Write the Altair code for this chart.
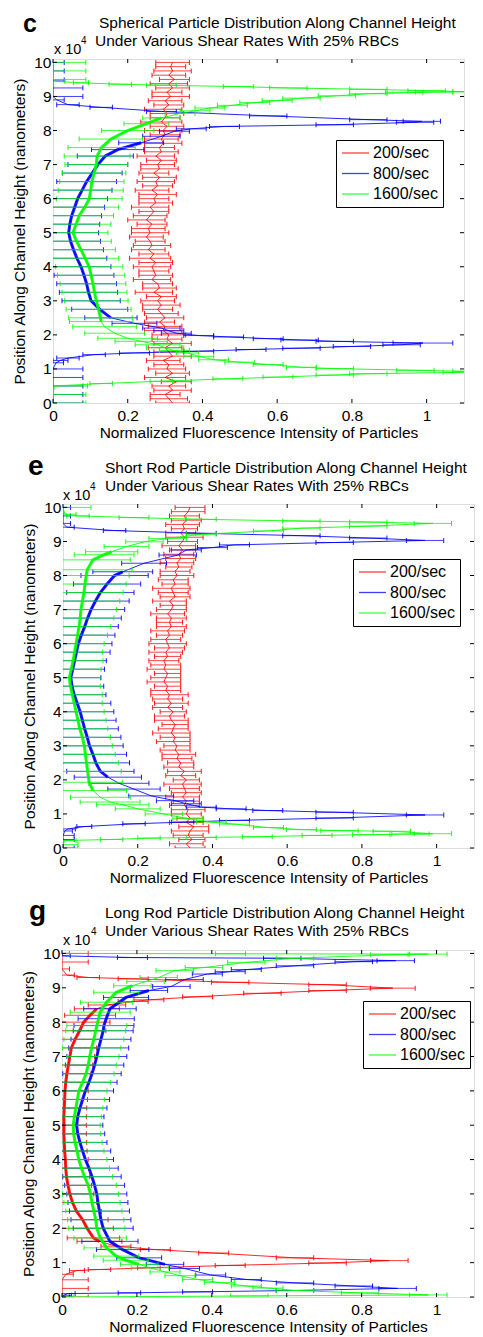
import altair as alt
import pandas as pd

FONT = "Liberation Sans"
SERIES = ["200/sec", "800/sec", "1600/sec"]
COLORS = ["#ff0000", "#0000ff", "#00ff00"]
X_TICKS = [0, 0.2, 0.4, 0.6, 0.8, 1.0]
Y_TICKS = [0, 1, 2, 3, 4, 5, 6, 7, 8, 9, 10]
X_LABEL = "Normalized Fluorescence Intensity of Particles"
Y_LABEL = "Position Along Channel Height (nanometers)"
LINE2 = "Under Various Shear Rates With 25% RBCs"
C_LINE1 = "Spherical Particle Distribution Along Channel Height"
E_LINE1 = "Short Rod Particle Distribution Along Channel Height"
G_LINE1 = "Long Rod Particle Distribution Along Channel Height"

# sample positions (x 10^4 nm) of the dense 200/sec profiles
RED_POS = [0.0, 0.125, 0.25, 0.375, 0.5, 0.625, 0.75, 0.875, 1.0, 1.125, 1.25, 1.375, 1.5, 1.625, 1.75, 1.875,
           2.0, 2.125, 2.25, 2.375, 2.5, 2.625, 2.75, 2.875, 3.0, 3.125, 3.25, 3.375, 3.5, 3.625, 3.75, 3.875,
           4.0, 4.125, 4.25, 4.375, 4.5, 4.625, 4.75, 4.875, 5.0, 5.125, 5.25, 5.375, 5.5, 5.625, 5.75, 5.875,
           6.0, 6.125, 6.25, 6.375, 6.5, 6.625, 6.75, 6.875, 7.0, 7.125, 7.25, 7.375, 7.5, 7.625, 7.75, 7.875,
           8.0, 8.125, 8.25, 8.375, 8.5, 8.625, 8.75, 8.875, 9.0, 9.125, 9.25, 9.375, 9.5, 9.625, 9.75, 9.875, 10.0]

# ---------------- panel c (spherical) ----------------
C_RED_X = [0.32, 0.31, 0.30, 0.32, 0.31, 0.33, 0.30, 0.32, 0.305, 0.31,
           0.295, 0.32, 0.31, 0.30, 0.32, 0.305, 0.31, 0.295, 0.30, 0.285,
           0.30, 0.29, 0.28, 0.29, 0.28, 0.29, 0.27, 0.285, 0.28, 0.265,
           0.275, 0.27, 0.265, 0.275, 0.26, 0.27, 0.255, 0.265, 0.26, 0.25,
           0.26, 0.255, 0.265, 0.25, 0.26, 0.27, 0.26, 0.275, 0.27, 0.28,
           0.265, 0.28, 0.275, 0.285, 0.27, 0.285, 0.28, 0.29, 0.275, 0.29,
           0.285, 0.295, 0.29, 0.30, 0.295, 0.305, 0.29, 0.30, 0.305, 0.295,
           0.31, 0.30, 0.315, 0.305, 0.32, 0.31, 0.325, 0.31, 0.32, 0.315, 0.32]
C_RED_E = [0.045, 0.05, 0.04, 0.05, 0.045, 0.04, 0.055, 0.045, 0.05, 0.04,
           0.045, 0.05, 0.04, 0.045, 0.05, 0.04, 0.045, 0.05, 0.045, 0.04,
           0.05, 0.045, 0.04, 0.05, 0.045, 0.04, 0.05, 0.045, 0.04, 0.05,
           0.045, 0.04, 0.05, 0.045, 0.055, 0.04, 0.045, 0.05, 0.04, 0.045,
           0.05, 0.045, 0.04, 0.05, 0.045, 0.04, 0.05, 0.045, 0.04, 0.05,
           0.045, 0.04, 0.05, 0.045, 0.04, 0.05, 0.045, 0.04, 0.05, 0.045,
           0.04, 0.05, 0.045, 0.04, 0.05, 0.045, 0.055, 0.04, 0.045, 0.05,
           0.04, 0.045, 0.05, 0.04, 0.045, 0.05, 0.04, 0.045, 0.05, 0.04, 0.045]

C_BLUE_Y = [0.0, 0.25, 0.5, 0.75, 1.0, 1.18, 1.25, 1.32, 1.42, 1.47, 1.52, 1.57, 1.61, 1.66, 1.71, 1.76,
            1.81, 1.85, 1.89, 1.94, 1.98, 2.05, 2.12, 2.2, 2.34, 2.5, 2.75, 3.0, 3.25, 3.5, 3.75, 4.0,
            4.25, 4.5, 4.75, 5.0, 5.25, 5.5, 5.75, 6.0, 6.25, 6.5, 6.75, 7.0, 7.25, 7.44, 7.64, 7.83,
            7.98, 8.05, 8.12, 8.17, 8.24, 8.27, 8.32, 8.43, 8.56, 8.68, 8.76, 8.9, 9.0, 9.25, 9.48, 9.75, 10.0]
C_BLUE_X = [0.0, 0.0, 0.0, 0.0, 0.0, 0.008, 0.02, 0.04, 0.11, 0.218, 0.39, 0.53, 0.665, 0.8, 0.933, 0.99,
            0.754, 0.66, 0.576, 0.47, 0.39, 0.33, 0.31, 0.29, 0.218, 0.155, 0.125, 0.102, 0.095, 0.09, 0.083, 0.075,
            0.064, 0.055, 0.047, 0.042, 0.045, 0.05, 0.058, 0.066, 0.078, 0.09, 0.105, 0.12, 0.14, 0.173, 0.236, 0.29,
            0.325, 0.37, 0.459, 0.754, 0.969, 0.987, 0.844, 0.576, 0.29, 0.129, 0.04, 0.01, 0.0, 0.0, 0.0, 0.0, 0.0]
C_BLUE_E = [0.08, 0.08, 0.08, 0.08, 0.08, 0.02, 0.02, 0.03, 0.03, 0.04, 0.04, 0.04, 0.05, 0.05, 0.05, 0.08,
            0.05, 0.05, 0.04, 0.04, 0.04, 0.04, 0.04, 0.05, 0.06, 0.07, 0.075, 0.078, 0.078, 0.08, 0.08, 0.08,
            0.08, 0.08, 0.08, 0.08, 0.08, 0.08, 0.08, 0.08, 0.08, 0.08, 0.08, 0.08, 0.075, 0.07, 0.06, 0.05,
            0.04, 0.04, 0.04, 0.05, 0.05, 0.05, 0.05, 0.05, 0.04, 0.03, 0.03, 0.02, 0.08, 0.08, 0.03, 0.03, 0.03]

C_GREEN_Y = [0.0, 0.25, 0.5, 0.57, 0.64, 0.71, 0.76, 0.82, 0.86, 0.90, 0.93, 0.96, 1.01, 1.05, 1.13,
             1.20, 1.27, 1.37, 1.47, 1.54, 1.62, 1.71, 1.81, 1.90, 2.05, 2.24, 2.39, 2.5, 2.75, 3.0,
             3.25, 3.5, 3.75, 4.0, 4.25, 4.5, 4.75, 5.0, 5.25, 5.5, 5.75, 6.0, 6.25, 6.5, 6.75,
             7.0, 7.25, 7.5, 7.75, 8.0, 8.2, 8.37, 8.5, 8.58, 8.66, 8.74, 8.82, 8.88, 8.95, 9.02,
             9.08, 9.11, 9.13, 9.14, 9.17, 9.21, 9.25, 9.29, 9.33, 9.36, 9.40, 9.44, 9.5, 9.75, 10.0]
C_GREEN_X = [0.0, 0.0, 0.004, 0.129, 0.29, 0.468, 0.602, 0.754, 0.844, 1.094, 1.12, 0.97, 0.754, 0.665, 0.576,
             0.50, 0.43, 0.39, 0.36, 0.325, 0.30, 0.28, 0.236, 0.20, 0.165, 0.138, 0.129, 0.127, 0.122, 0.116,
             0.111, 0.107, 0.102, 0.097, 0.086, 0.075, 0.063, 0.053, 0.062, 0.07, 0.085, 0.097, 0.101, 0.104, 0.11,
             0.116, 0.118, 0.13, 0.155, 0.2, 0.25, 0.29, 0.34, 0.38, 0.42, 0.48, 0.54, 0.60, 0.665, 0.76,
             0.844, 0.94, 1.02, 1.12, 1.0, 0.844, 0.63, 0.496, 0.29, 0.18, 0.075, 0.012, 0.0, 0.0, 0.0]
C_GREEN_E = [0.088, 0.088, 0.088, 0.03, 0.03, 0.04, 0.04, 0.05, 0.05, 0.05, 0.05, 0.05, 0.05, 0.04, 0.04,
             0.04, 0.04, 0.04, 0.03, 0.04, 0.05, 0.06, 0.07, 0.08, 0.08, 0.085, 0.085, 0.085, 0.087, 0.085,
             0.087, 0.088, 0.09, 0.09, 0.09, 0.092, 0.093, 0.094, 0.093, 0.092, 0.09, 0.088, 0.087, 0.086, 0.085,
             0.084, 0.088, 0.09, 0.085, 0.07, 0.06, 0.05, 0.04, 0.04, 0.04, 0.04, 0.04, 0.04, 0.05, 0.05,
             0.05, 0.05, 0.05, 0.05, 0.05, 0.05, 0.05, 0.04, 0.04, 0.03, 0.02, 0.02, 0.088, 0.088, 0.088]

# ---------------- panel e (short rod) ----------------
E_RED_X = [0.34, 0.33, 0.345, 0.335, 0.34, 0.35, 0.33, 0.34, 0.33, 0.335,
           0.325, 0.33, 0.32, 0.33, 0.325, 0.32, 0.33, 0.315, 0.325, 0.31,
           0.315, 0.305, 0.31, 0.30, 0.305, 0.295, 0.30, 0.29, 0.295, 0.30,
           0.29, 0.285, 0.295, 0.28, 0.29, 0.28, 0.285, 0.275, 0.28, 0.27,
           0.275, 0.28, 0.27, 0.275, 0.27, 0.28, 0.275, 0.285, 0.28, 0.275,
           0.285, 0.28, 0.29, 0.285, 0.29, 0.28, 0.29, 0.295, 0.285, 0.30,
           0.295, 0.29, 0.30, 0.295, 0.305, 0.30, 0.31, 0.305, 0.315, 0.31,
           0.32, 0.31, 0.32, 0.325, 0.315, 0.325, 0.32, 0.33, 0.325, 0.335, 0.34]
E_RED_E = [0.04, 0.045, 0.035, 0.04, 0.05, 0.04, 0.045, 0.035, 0.04, 0.045,
           0.04, 0.035, 0.045, 0.04, 0.04, 0.05, 0.035, 0.04, 0.045, 0.04,
           0.035, 0.04, 0.045, 0.04, 0.035, 0.045, 0.04, 0.05, 0.04, 0.035,
           0.045, 0.04, 0.035, 0.04, 0.045, 0.04, 0.05, 0.04, 0.035, 0.045,
           0.04, 0.035, 0.045, 0.04, 0.04, 0.035, 0.045, 0.04, 0.05, 0.04,
           0.035, 0.045, 0.04, 0.035, 0.04, 0.045, 0.04, 0.035, 0.045, 0.04,
           0.04, 0.05, 0.035, 0.04, 0.045, 0.04, 0.035, 0.045, 0.04, 0.04,
           0.035, 0.045, 0.04, 0.05, 0.04, 0.035, 0.045, 0.04, 0.04, 0.045, 0.04]

E_BLUE_Y = [0.0, 0.25, 0.37, 0.5, 0.56, 0.63, 0.71, 0.76, 0.81, 0.88, 0.97, 1.05, 1.1, 1.15, 1.2, 1.3,
            1.39, 1.53, 1.73, 1.9, 2.08, 2.25, 2.5, 2.75, 3.0, 3.25, 3.5, 3.75, 4.0, 4.25, 4.5, 4.75,
            5.0, 5.25, 5.5, 5.75, 6.0, 6.25, 6.5, 6.75, 7.0, 7.25, 7.5, 7.75, 8.0, 8.11, 8.36, 8.60,
            8.75, 8.82, 8.9, 8.97, 9.03, 9.1, 9.17, 9.24, 9.32, 9.42, 9.53, 9.75, 10.0]
E_BLUE_X = [0.0, 0.0, 0.0, 0.005, 0.013, 0.057, 0.19, 0.32, 0.459, 0.727, 0.969, 0.727, 0.548, 0.45, 0.37, 0.33,
            0.3, 0.236, 0.19, 0.15, 0.12, 0.1, 0.088, 0.08, 0.071, 0.065, 0.058, 0.052, 0.046, 0.038, 0.03, 0.024,
            0.021, 0.026, 0.031, 0.036, 0.041, 0.049, 0.058, 0.066, 0.075, 0.087, 0.1, 0.118, 0.138, 0.16, 0.217, 0.307,
            0.33, 0.40, 0.459, 0.727, 0.969, 0.817, 0.638, 0.37, 0.138, 0.01, 0.0, 0.0, 0.0]
E_BLUE_E = [0.03, 0.03, 0.03, 0.02, 0.02, 0.02, 0.03, 0.03, 0.04, 0.05, 0.05, 0.05, 0.04, 0.04, 0.04, 0.04,
            0.05, 0.06, 0.07, 0.08, 0.09, 0.09, 0.09, 0.09, 0.09, 0.09, 0.09, 0.09, 0.09, 0.09, 0.085, 0.085,
            0.08, 0.085, 0.085, 0.09, 0.09, 0.09, 0.09, 0.09, 0.09, 0.09, 0.09, 0.09, 0.09, 0.08, 0.06, 0.05,
            0.04, 0.04, 0.04, 0.05, 0.05, 0.05, 0.05, 0.04, 0.03, 0.02, 0.02, 0.02, 0.02]

E_GREEN_Y = [0.0, 0.1, 0.22, 0.25, 0.29, 0.31, 0.33, 0.37, 0.39, 0.41, 0.42, 0.49, 0.51, 0.54, 0.60, 0.70,
             0.76, 0.86, 1.0, 1.15, 1.27, 1.35, 1.49, 1.69, 1.93, 2.25, 2.5, 2.75, 3.0, 3.25, 3.5, 3.75,
             4.0, 4.25, 4.5, 4.75, 5.0, 5.25, 5.5, 5.75, 6.0, 6.25, 6.5, 6.75, 7.0, 7.25, 7.5, 7.75,
             8.0, 8.17, 8.46, 8.61, 8.70, 8.85, 8.99, 9.09, 9.21, 9.31, 9.39, 9.45, 9.53, 9.57, 9.60, 9.65,
             9.70, 9.75, 9.80, 10.0]
E_GREEN_X = [0.0, 0.0, 0.005, 0.13, 0.23, 0.37, 0.52, 0.68, 0.825, 0.93, 0.99, 0.88, 0.74, 0.638, 0.55, 0.459,
             0.397, 0.334, 0.27, 0.2, 0.16, 0.126, 0.1, 0.08, 0.07, 0.066, 0.063, 0.06, 0.057, 0.052, 0.045, 0.04,
             0.035, 0.03, 0.025, 0.02, 0.017, 0.022, 0.027, 0.031, 0.035, 0.039, 0.043, 0.046, 0.048, 0.052, 0.056, 0.059,
             0.062, 0.065, 0.08, 0.11, 0.13, 0.17, 0.218, 0.28, 0.37, 0.55, 0.638, 0.817, 0.99, 0.817, 0.638, 0.37,
             0.19, 0.04, 0.005, 0.0]
E_GREEN_E = [0.04, 0.04, 0.03, 0.03, 0.03, 0.04, 0.04, 0.04, 0.05, 0.05, 0.05, 0.05, 0.05, 0.04, 0.04, 0.04,
             0.04, 0.04, 0.05, 0.06, 0.07, 0.08, 0.08, 0.09, 0.09, 0.09, 0.085, 0.08, 0.075, 0.075, 0.075, 0.075,
             0.075, 0.075, 0.08, 0.08, 0.085, 0.08, 0.08, 0.075, 0.075, 0.08, 0.085, 0.09, 0.095, 0.1, 0.105, 0.11,
             0.115, 0.12, 0.1, 0.08, 0.07, 0.06, 0.05, 0.05, 0.04, 0.04, 0.05, 0.05, 0.05, 0.05, 0.05, 0.04,
             0.04, 0.03, 0.03, 0.075]

# ---------------- panel g (long rod) ----------------
G_RED_Y = [0.0, 0.25, 0.5, 0.66, 0.77, 0.80, 0.85, 0.92, 0.99, 1.06, 1.14, 1.28, 1.38, 1.48, 1.62, 1.72,
           2.0, 2.25, 2.49, 2.75, 3.0, 3.25, 3.5, 3.75, 4.0, 4.25, 4.5, 4.75, 5.0, 5.25, 5.5, 5.75,
           6.0, 6.25, 6.5, 6.75, 7.0, 7.25, 7.5, 7.75, 8.0, 8.2, 8.39, 8.5, 8.6, 8.65, 8.74, 8.84,
           8.92, 8.99, 9.09, 9.16, 9.26, 9.30, 9.37, 9.55, 9.75, 10.0]
G_RED_X = [0.0, 0.0, 0.0, 0.01, 0.04, 0.1, 0.232, 0.449, 0.709, 0.874, 0.622, 0.405, 0.249, 0.144, 0.1, 0.084,
           0.067, 0.055, 0.039, 0.028, 0.021, 0.016, 0.012, 0.01, 0.009, 0.007, 0.006, 0.005, 0.005, 0.005, 0.006, 0.007,
           0.008, 0.01, 0.013, 0.017, 0.021, 0.025, 0.035, 0.047, 0.058, 0.075, 0.093, 0.12, 0.19, 0.232, 0.362, 0.535,
           0.709, 0.883, 0.709, 0.449, 0.19, 0.07, 0.013, 0.0, 0.0, 0.0]
G_RED_E = [0.07, 0.07, 0.07, 0.02, 0.02, 0.03, 0.03, 0.04, 0.05, 0.05, 0.05, 0.04, 0.04, 0.04, 0.06, 0.07,
           0.07, 0.068, 0.066, 0.065, 0.064, 0.063, 0.062, 0.062, 0.061, 0.06, 0.06, 0.06, 0.06, 0.06, 0.06, 0.061,
           0.062, 0.063, 0.064, 0.065, 0.066, 0.067, 0.068, 0.07, 0.07, 0.068, 0.06, 0.05, 0.04, 0.04, 0.04, 0.05,
           0.05, 0.06, 0.05, 0.05, 0.04, 0.03, 0.02, 0.02, 0.07, 0.07]

G_BLUE_Y = [0.0, 0.05, 0.1, 0.12, 0.15, 0.19, 0.25, 0.32, 0.41, 0.51, 0.64, 0.83, 0.95, 1.14, 1.38, 1.62,
            2.0, 2.25, 2.5, 2.75, 3.0, 3.25, 3.5, 3.75, 4.0, 4.25, 4.5, 4.75, 5.0, 5.25, 5.5, 5.75,
            6.0, 6.25, 6.5, 6.75, 7.0, 7.25, 7.5, 7.75, 7.9, 8.1, 8.39, 8.72, 8.92, 9.04, 9.24, 9.4,
            9.47, 9.53, 9.64, 9.76, 9.79, 9.86, 9.88, 9.93, 10.0]
G_BLUE_X = [0.0, 0.005, 0.015, 0.18, 0.362, 0.622, 0.896, 0.779, 0.622, 0.492, 0.397, 0.327, 0.275, 0.206, 0.162, 0.128,
            0.11, 0.104, 0.1, 0.096, 0.093, 0.087, 0.08, 0.072, 0.0625, 0.055, 0.048, 0.042, 0.039, 0.042, 0.048, 0.055,
            0.0625, 0.072, 0.08, 0.087, 0.093, 0.098, 0.104, 0.11, 0.112, 0.118, 0.128, 0.171, 0.232, 0.292, 0.327, 0.388,
            0.449, 0.492, 0.622, 0.779, 0.891, 0.588, 0.188, 0.002, 0.0]
G_BLUE_E = [0.02, 0.02, 0.02, 0.03, 0.04, 0.05, 0.05, 0.05, 0.05, 0.04, 0.04, 0.04, 0.05, 0.06, 0.07, 0.075,
            0.08, 0.08, 0.08, 0.08, 0.08, 0.08, 0.078, 0.078, 0.075, 0.075, 0.072, 0.072, 0.07, 0.07, 0.072, 0.072,
            0.075, 0.075, 0.078, 0.078, 0.08, 0.08, 0.08, 0.08, 0.08, 0.075, 0.07, 0.06, 0.05, 0.05, 0.05, 0.04,
            0.04, 0.04, 0.05, 0.05, 0.05, 0.05, 0.04, 0.02, 0.02]

G_GREEN_Y = [0.0, 0.03, 0.06, 0.12, 0.19, 0.26, 0.32, 0.42, 0.51, 0.62, 0.73, 0.85, 0.95, 1.07, 1.19, 1.43,
             1.72, 2.0, 2.25, 2.5, 2.75, 3.0, 3.25, 3.5, 3.75, 4.0, 4.25, 4.5, 4.75, 5.0, 5.25, 5.5,
             5.75, 6.0, 6.25, 6.5, 6.75, 7.0, 7.25, 7.5, 7.75, 7.9, 8.29, 8.58, 8.87, 9.06, 9.18, 9.3,
             9.5, 9.59, 9.74, 9.86, 9.96, 9.98, 9.99, 10.0]
G_GREEN_X = [0.01, 0.5, 0.978, 0.796, 0.622, 0.55, 0.492, 0.42, 0.362, 0.315, 0.275, 0.235, 0.206, 0.17, 0.145, 0.119,
             0.102, 0.093, 0.09, 0.085, 0.08, 0.076, 0.07, 0.06, 0.052, 0.045, 0.04, 0.035, 0.031, 0.03, 0.033, 0.037,
             0.041, 0.045, 0.055, 0.064, 0.07, 0.074, 0.079, 0.085, 0.09, 0.093, 0.102, 0.119, 0.145, 0.188, 0.223, 0.258,
             0.301, 0.379, 0.492, 0.622, 0.874, 0.978, 0.45, 0.0]
G_GREEN_E = [0.02, 0.05, 0.05, 0.05, 0.05, 0.04, 0.04, 0.04, 0.04, 0.04, 0.04, 0.05, 0.05, 0.06, 0.06, 0.06,
             0.07, 0.075, 0.075, 0.075, 0.075, 0.075, 0.075, 0.075, 0.075, 0.075, 0.072, 0.072, 0.072, 0.072, 0.072, 0.072,
             0.072, 0.075, 0.075, 0.075, 0.075, 0.078, 0.078, 0.08, 0.08, 0.08, 0.08, 0.07, 0.06, 0.05, 0.05, 0.05,
             0.05, 0.05, 0.05, 0.05, 0.05, 0.05, 0.04, 0.02]

X_DOMAIN = [0, 1.1]
Y_DOMAIN = [0, 10.1]
LEFT = 43  # room kept left of each plot for the y axis


def xenc(field):
    return alt.X(field, type="quantitative", scale=alt.Scale(domain=X_DOMAIN, nice=False, zero=False, clamp=True),
                 axis=alt.Axis(values=X_TICKS, format="~g", title=X_LABEL, grid=False, domain=False, ticks=False,
                               labelPadding=5, titlePadding=2, labelFlush=False, labelFont=FONT, titleFont=FONT,
                               labelFontSize=15.5, titleFontSize=15.5, titleFontWeight="normal",
                               labelColor="black", titleColor="black"))


def yenc(field):
    return alt.Y(field, type="quantitative", scale=alt.Scale(domain=Y_DOMAIN, nice=False, zero=False),
                 axis=alt.Axis(values=Y_TICKS, format="d", title=Y_LABEL, grid=False, domain=False, ticks=False,
                               labelPadding=2, titlePadding=6, labelFlush=False, labelFont=FONT, titleFont=FONT,
                               labelFontSize=15.5, titleFontSize=15.5, titleFontWeight="normal",
                               labelColor="black", titleColor="black"))


def series_layers(name, ys, xs, es, core, legend):
    assert len(ys) == len(xs) == len(es), (name, len(ys), len(xs), len(es))
    df = pd.DataFrame({"y": ys, "x": xs, "e": es})
    df["lo"] = df["x"] - df["e"]
    df["hi"] = df["x"] + df["e"]
    df["i"] = list(range(len(df)))
    df["s"] = name
    col = alt.Color("s:N", scale=alt.Scale(domain=SERIES, range=COLORS), legend=legend)
    lo_caps = df[df["lo"] >= 0]
    hi_caps = df[df["hi"] <= X_DOMAIN[1]]
    out = [
        alt.Chart(df).mark_rule(clip=True, strokeWidth=1, opacity=0.75).encode(
            x=xenc("lo"), x2="hi", y=yenc("y"), color=col),
        alt.Chart(lo_caps).mark_tick(clip=True, orient="vertical", size=5, thickness=1, opacity=0.9).encode(
            x=xenc("lo"), y=yenc("y"), color=col),
        alt.Chart(hi_caps).mark_tick(clip=True, orient="vertical", size=5, thickness=1, opacity=0.9).encode(
            x=xenc("hi"), y=yenc("y"), color=col),
        alt.Chart(df).mark_line(clip=True, strokeWidth=1, opacity=0.85).encode(
            x=xenc("x"), y=yenc("y"), order=alt.Order("i:Q"), color=col),
    ]
    if core is not None:
        dd = df[(df["y"] >= core[0]) & (df["y"] <= core[1])]
        out.append(alt.Chart(dd).mark_line(clip=True, strokeWidth=3, opacity=0.9).encode(
            x=xenc("x"), y=yenc("y"), order=alt.Order("i:Q"), color=col))
    return out


def txt(s, x, y, size, weight="normal"):
    return alt.Chart(alt.InlineData(values=[{}])).mark_text(
        text=s, align="left", baseline="alphabetic", font=FONT, fontSize=size, fontWeight=weight,
        color="black").encode(x=alt.value(x), y=alt.value(y))


def tick_layers(W, H):
    xt = pd.DataFrame({"t": X_TICKS})
    yt = pd.DataFrame({"t": Y_TICKS})
    k = 4
    return [
        alt.Chart(xt).mark_rule(color="black", strokeWidth=1).encode(x=xenc("t"), y=alt.value(H), y2=alt.value(H - k)),
        alt.Chart(xt).mark_rule(color="black", strokeWidth=1).encode(x=xenc("t"), y=alt.value(0), y2=alt.value(k)),
        alt.Chart(yt).mark_rule(color="black", strokeWidth=1).encode(y=yenc("t"), x=alt.value(0), x2=alt.value(k)),
        alt.Chart(yt).mark_rule(color="black", strokeWidth=1).encode(y=yenc("t"), x=alt.value(W), x2=alt.value(W - k)),
    ]


def frame(W, H, left, top, bottom):
    # invisible guide that fixes how much room the panel takes around its plot area
    return alt.Chart(alt.InlineData(values=[{}])).mark_rule(opacity=0, strokeWidth=1).encode(
        x=alt.value(-left), y=alt.value(-top), y2=alt.value(H + bottom))


def panel(letter, line1, series, W, H, shift, leg_xy, letter_xy, letter_size, t1, t2, x10, sup, top):
    # the legend is placed relative to the row (spacer + axis room), hence the shift
    legend = alt.Legend(orient="none", legendX=leg_xy[0] + shift + LEFT, legendY=leg_xy[1], title=None,
                        symbolType="stroke", symbolSize=729, symbolStrokeWidth=1.3,
                        labelFont=FONT, labelFontSize=16, labelColor="black",
                        strokeColor="black", fillColor="white", padding=5, rowPadding=4.5,
                        clipHeight=16, labelOffset=3)
    layers = [frame(W, H, LEFT, top, 40)]
    for s in series:
        layers += series_layers(*s, legend)
    layers += tick_layers(W, H)
    layers += [
        txt(letter, letter_xy[0], letter_xy[1], letter_size, "bold"),
        txt(line1, t1[0], t1[1], 15.5),
        txt(LINE2, t2[0], t2[1], 15.5),
        txt("x 10", x10[0], x10[1], 14.5),
        txt("4", sup[0], sup[1], 10),
    ]
    return alt.layer(*layers).properties(width=W, height=H)


def spacer(w):
    # empty strip that offsets a panel to the right; its only mark is a size-0 point on its right edge
    return alt.Chart(alt.InlineData(values=[{}])).mark_point(opacity=0, size=0, strokeWidth=0, filled=True).encode(
        x=alt.value(w), y=alt.value(0)).properties(width=w, height=1, view=alt.ViewBackground(stroke=None))


SHIFT_C, SHIFT_E, SHIFT_G = 1, 11, 10

pc = panel("c", C_LINE1, [
    ("200/sec", RED_POS, C_RED_X, C_RED_E, None),
    ("800/sec", C_BLUE_Y, C_BLUE_X, C_BLUE_E, (2.4, 7.7)),
    ("1600/sec", C_GREEN_Y, C_GREEN_X, C_GREEN_E, (2.3, 8.45)),
], 411, 344, SHIFT_C, (284, 81), (-30, -27), 25, (46, -31), (42, -13), (1, -5), (28, -15), 50)

pe = panel("e", E_LINE1, [
    ("200/sec", RED_POS, E_RED_X, E_RED_E, None),
    ("800/sec", E_BLUE_Y, E_BLUE_X, E_BLUE_E, (2.0, 8.2)),
    ("1600/sec", E_GREEN_Y, E_GREEN_X, E_GREEN_E, (1.6, 8.7)),
], 411, 344, SHIFT_E, (291, 55), (-35, -29), 28, (42, -31), (42, -13), (0, -4), (27, -14), 50)

pg = panel("g", G_LINE1, [
    ("200/sec", G_RED_Y, G_RED_X, G_RED_E, (1.6, 8.45)),
    ("800/sec", G_BLUE_Y, G_BLUE_X, G_BLUE_E, (0.9, 8.95)),
    ("1600/sec", G_GREEN_Y, G_GREEN_X, G_GREEN_E, (0.9, 9.1)),
], 412, 347, SHIFT_G, (302, 51), (-33, -30), 28, (43, -32), (43, -14), (1, -5), (29, -15), 52)

row_c = alt.hconcat(spacer(SHIFT_C), pc, spacing=0)
row_e = alt.hconcat(spacer(SHIFT_E), pe, spacing=0)
row_g = alt.hconcat(spacer(SHIFT_G), pg, spacing=0)

chart = alt.vconcat(row_c, row_e, row_g, spacing=8).resolve_legend(
    color="independent").properties(padding={"left": 0, "top": 0, "right": 0, "bottom": 0}).configure_view(
    stroke="black", strokeWidth=1).configure(background="white")

chart.save("out.html", embed_options={"renderer": "svg", "actions": False})
